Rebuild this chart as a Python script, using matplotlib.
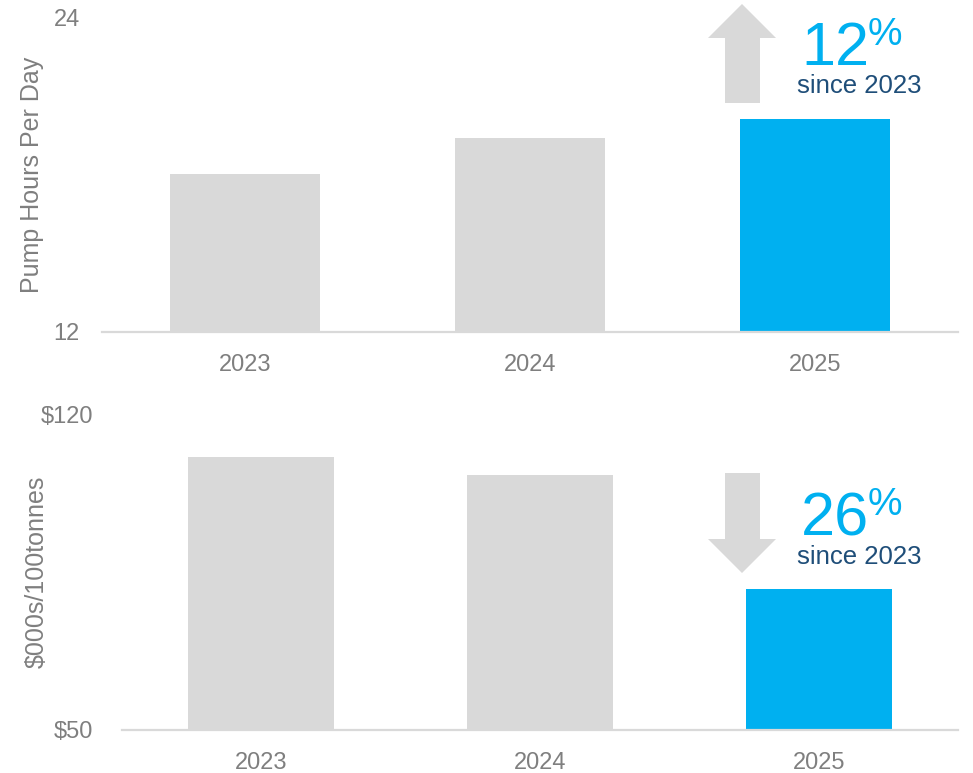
import matplotlib
matplotlib.use("Agg")
import matplotlib.pyplot as plt
from matplotlib.patches import Polygon

plt.rcParams['font.family'] = ['Liberation Sans', 'DejaVu Sans']

years = ["2023", "2024", "2025"]
pump_hours = [18.05, 19.4, 20.15]
cost_per_100t = [110.4, 106.4, 81.3]
top_ylim = (12, 24)
bot_ylim = (50, 120)
top_ticks = [12, 24]
bot_ticks = [50, 120]
bot_ticklabels = ["$50", "$120"]
top_change = "12"
bot_change = "26"

GRAY_BAR = "#D9D9D9"
BLUE = "#00B0F0"
DARK_BLUE = "#1F4E79"
TEXT_GRAY = "#7F7F7F"

W, H = 973, 773
fig = plt.figure(figsize=(W / 100, H / 100), dpi=100)


def fx(px):
    return px / W


def fy(py):
    return 1 - py / H


def make_axes(left, right, top, bottom):
    return fig.add_axes([fx(left), fy(bottom), fx(right) - fx(left), fy(top) - fy(bottom)])


ax1 = make_axes(102, 958, 18, 332)
ax2 = make_axes(122, 958, 414, 730)

colors = [GRAY_BAR, GRAY_BAR, BLUE]
x = range(len(years))
for ax, vals, ylim, ticks in [(ax1, pump_hours, top_ylim, top_ticks),
                              (ax2, cost_per_100t, bot_ylim, bot_ticks)]:
    ax.bar(x, [v - ylim[0] for v in vals], bottom=ylim[0], width=0.525, color=colors, zorder=2)
    ax.set_xlim(-0.5, 2.5)
    ax.set_ylim(*ylim)
    ax.set_xticks(list(x))
    ax.set_xticklabels(years)
    ax.set_yticks(ticks)
    for s in ["top", "right", "left"]:
        ax.spines[s].set_visible(False)
    ax.spines["bottom"].set_color(GRAY_BAR)
    ax.spines["bottom"].set_linewidth(1.6)
    ax.spines["bottom"].set_zorder(3)
    ax.tick_params(axis="both", length=0, labelsize=17, labelcolor=TEXT_GRAY)
    ax.tick_params(axis="x", pad=16)
    ax.patch.set_alpha(0)

ax1.tick_params(axis="y", pad=16)
ax2.set_yticklabels(bot_ticklabels)
ax2.tick_params(axis="y", pad=21)

fig.text(fx(32), fy(175), "Pump Hours Per Day", rotation=90, ha="center", va="center",
         fontsize=18, color=TEXT_GRAY)
fig.text(fx(37), fy(572), "$000s/100tonnes", rotation=90, ha="center", va="center",
         fontsize=18, color=TEXT_GRAY)


def arrow(points):
    poly = Polygon([(fx(px), fy(py)) for px, py in points], closed=True,
                   transform=fig.transFigure, facecolor=GRAY_BAR, edgecolor="none")
    fig.patches.append(poly)


# up arrow
arrow([(725, 103), (725, 38), (708, 38), (742, 4), (776, 38), (760, 38), (760, 103)])
# down arrow
arrow([(725, 473), (725, 539), (708, 539), (742, 573), (776, 539), (760, 539), (760, 473)])

for num, nb, pb, sb in [(top_change, 65, 45, 93), (bot_change, 535, 515, 564)]:
    fig.text(fx(801), fy(nb), num, fontsize=44, color=BLUE, va="baseline", ha="left")
    fig.text(fx(868), fy(pb), "%", fontsize=28, color=BLUE, va="baseline", ha="left")
    fig.text(fx(797), fy(sb), "since 2023", fontsize=18.5, color=DARK_BLUE, va="baseline", ha="left")

fig.savefig("out.png", dpi=100)
